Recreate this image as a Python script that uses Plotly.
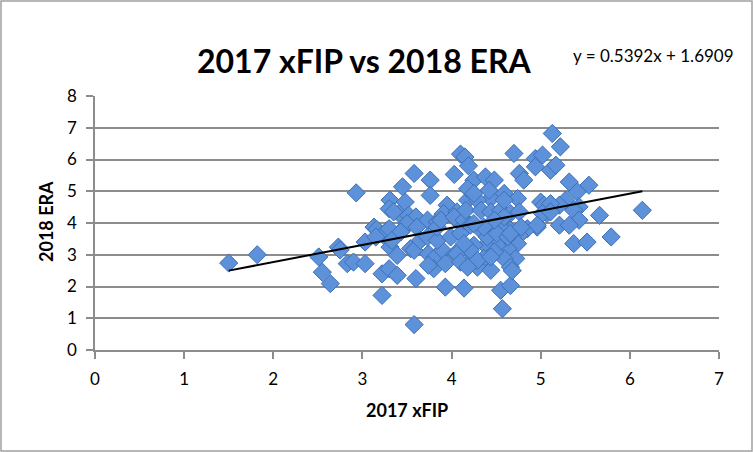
import numpy as np
import plotly.graph_objects as go

# values
xfip_2017 = [
    1.50, 1.82, 2.51, 2.55, 2.64, 2.73, 2.75, 2.83, 2.90, 2.93,
    3.03, 3.03, 3.13, 3.16, 3.24, 3.28, 3.22, 3.30, 3.39, 3.22,
    3.31, 3.39, 3.31, 3.45, 3.41, 3.30, 3.35, 3.48, 3.52, 3.58,
    3.76, 3.76, 3.60, 3.73, 3.84, 3.95, 4.04, 3.90, 3.30, 3.48,
    3.50, 3.43, 3.61, 3.33, 3.15, 3.54, 3.58, 3.74, 3.82, 3.90,
    4.04, 3.60, 3.58, 3.80, 3.93, 3.74, 3.93, 4.14, 3.65, 3.73,
    3.84, 3.84, 3.99, 4.06, 4.10, 3.91, 4.06, 4.18, 3.88, 4.03,
    4.14, 4.03, 4.10, 4.15, 4.19, 4.25, 4.38, 4.48, 4.18, 4.70,
    4.94, 5.02, 4.94, 4.76, 4.81, 5.13, 5.22, 5.11, 5.17, 5.32,
    5.54, 5.41, 5.28, 5.21, 5.09, 5.43, 5.37, 5.66, 5.43, 5.21,
    5.32, 6.14, 5.37, 5.52, 5.79, 4.59, 4.74, 4.44, 4.29, 4.16,
    4.33, 4.44, 4.55, 4.66, 4.76, 5.00, 5.04, 4.96, 5.07, 4.85,
    4.76, 4.66, 4.55, 4.44, 4.33, 4.21, 4.74, 4.63, 4.51, 4.38,
    4.25, 4.72, 4.59, 4.48, 4.36, 4.29, 4.44, 4.66, 4.55, 4.66,
    4.57, 4.18, 4.21, 4.10, 4.29, 4.44, 4.18, 4.68, 4.14, 4.40,
    4.51, 4.63, 4.66, 4.59, 4.48, 4.36, 4.25, 4.42, 4.25, 4.59,
    5.11, 5.02, 5.11, 4.96, 4.78,
]
era_2018 = [
    2.74, 3.00, 2.93, 2.45, 2.09, 3.24, 3.15, 2.72, 2.77, 4.95,
    2.72, 3.40, 3.87, 3.80, 3.61, 3.77, 2.40, 2.56, 2.35, 1.72,
    3.24, 2.98, 4.72, 5.14, 4.30, 4.45, 4.35, 4.66, 4.24, 5.56,
    5.35, 4.87, 4.19, 4.09, 4.03, 4.56, 4.14, 4.24, 3.82, 3.87,
    3.98, 3.72, 3.87, 3.45, 3.56, 3.19, 3.14, 3.03, 2.93, 3.14,
    3.03, 2.25, 0.80, 2.56, 2.72, 2.67, 1.98, 1.95, 3.45, 3.56,
    3.45, 3.87, 3.56, 3.03, 3.67, 4.30, 4.35, 4.72, 4.09, 4.19,
    4.09, 5.53, 6.17, 6.08, 5.80, 5.35, 5.45, 5.35, 5.08, 6.19,
    6.03, 6.14, 5.77, 5.56, 5.35, 6.82, 6.40, 5.66, 5.82, 5.29,
    5.19, 4.98, 4.72, 4.56, 4.40, 4.51, 4.40, 4.24, 4.09, 3.93,
    3.93, 4.40, 3.35, 3.40, 3.56, 4.93, 4.77, 4.77, 4.72, 4.40,
    4.40, 4.35, 4.40, 4.30, 4.35, 4.66, 4.56, 3.87, 4.30, 3.82,
    3.61, 3.77, 3.87, 3.82, 3.77, 3.93, 3.35, 3.19, 3.30, 3.30,
    3.30, 2.88, 2.88, 3.09, 2.88, 2.61, 2.51, 2.61, 1.88, 2.03,
    1.30, 2.72, 3.14, 2.77, 2.82, 2.93, 2.61, 2.50, 3.35, 3.56,
    3.67, 3.56, 3.67, 4.19, 4.09, 3.87, 3.98, 5.03, 4.93, 4.72,
    4.61, 4.30, 4.35, 3.93, 3.87,
]
slope = 0.5392
intercept = 1.6909
x_ticks = [0, 1, 2, 3, 4, 5, 6, 7]
y_ticks = [0, 1, 2, 3, 4, 5, 6, 7, 8]

W, H = 753, 452
ml, mr, mt, mb = 95, 34, 96, 102
pw, ph = W - ml - mr, H - mt - mb


def px_x(p):
    # page pixel -> paper x
    return (p - ml) / pw


def px_y(p):
    # page pixel (from top) -> paper y
    return 1 + (mt - p) / ph


fig = go.Figure()

fig.add_trace(go.Scatter(
    x=xfip_2017, y=era_2018, mode="markers",
    marker=dict(symbol="diamond", size=14, color="#5d92da",
                line=dict(color="#3d6fb6", width=1)),
    showlegend=False,
))

# linear trendline over the data range
tx = np.array([min(xfip_2017), max(xfip_2017)])
fig.add_trace(go.Scatter(
    x=tx, y=slope * tx + intercept, mode="lines",
    line=dict(color="black", width=2), showlegend=False,
))

# outer chart border
fig.add_shape(type="rect", xref="paper", yref="paper",
              x0=px_x(1), x1=px_x(W - 1), y0=px_y(H - 1), y1=px_y(1),
              line=dict(color="#a0a0a0", width=1.5), layer="below")

fig.add_annotation(text="<b>2017 xFIP vs 2018 ERA</b>", xref="paper", yref="paper",
                   x=px_x(364), y=px_y(60), xanchor="center", yanchor="middle",
                   showarrow=False,
                   font=dict(family="Lato", size=32, color="black"))
fig.add_annotation(text=f"y = {slope}x + {intercept}", xref="paper", yref="paper",
                   x=px_x(653), y=px_y(55), xanchor="center", yanchor="middle",
                   showarrow=False,
                   font=dict(family="Lato", size=17, color="black"))
fig.add_annotation(text="<b>2017 xFIP</b>", xref="paper", yref="paper",
                   x=px_x(407), y=px_y(410), xanchor="center", yanchor="middle",
                   showarrow=False,
                   font=dict(family="Lato", size=18, color="black"))
fig.add_annotation(text="<b>2018 ERA</b>", xref="paper", yref="paper",
                   x=px_x(46), y=px_y(222), xanchor="center", yanchor="middle",
                   textangle=-90, showarrow=False,
                   font=dict(family="Lato", size=18, color="black"))

axis_common = dict(
    showgrid=True, gridcolor="#8c8c8c", gridwidth=1.5,
    showline=True, linecolor="#8c8c8c", linewidth=1.5,
    ticks="outside", ticklen=7, tickcolor="#8c8c8c", tickwidth=1.5,
    zeroline=False, tickfont=dict(family="Lato", size=17, color="black"),
)

fig.update_layout(
    width=W, height=H,
    margin=dict(l=ml, r=mr, t=mt, b=mb),
    paper_bgcolor="white", plot_bgcolor="white",
    xaxis=dict(range=[0, 7], tickvals=x_ticks, ticklabelstandoff=6, **axis_common),
    yaxis=dict(range=[0, 8], tickvals=y_ticks, ticklabelstandoff=6, **axis_common),
)
fig.update_xaxes(showgrid=False)

fig.write_html("out.html", config={"displayModeBar": False},
               post_script="document.body.style.margin='0';")
